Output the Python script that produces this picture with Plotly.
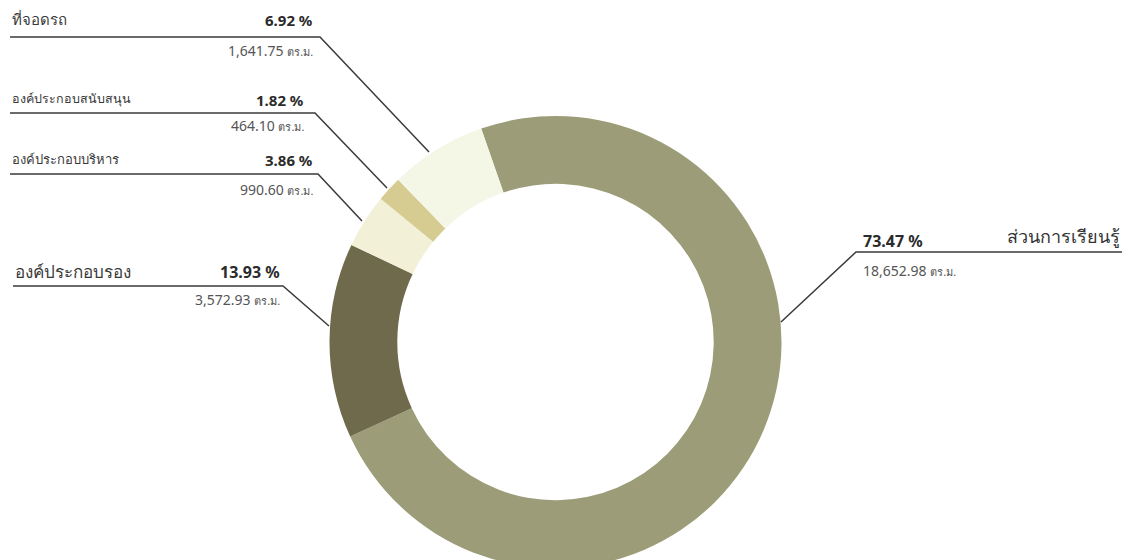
import plotly.graph_objects as go

# ---- data ----
labels = ["ส่วนการเรียนรู้", "องค์ประกอบรอง", "องค์ประกอบบริหาร", "องค์ประกอบสนับสนุน", "ที่จอดรถ"]
percents = [73.47, 13.93, 3.86, 1.82, 6.92]
areas = [18652.98, 3572.93, 990.60, 464.10, 1641.75]
unit = "ตร.ม."
colors = ["#9c9d78", "#6f6a4c", "#f2f0d6", "#d6cb90", "#f4f7e6"]

W, H = 1130, 560
OFF = 8  # page body margin
FONT = "Noto Sans, DejaVu Sans, sans-serif"


def px(x):
    return (x - OFF) / W


def py(y):
    return 1 - (y - OFF) / H


fig = go.Figure()

# donut, clockwise from just left of 12 o'clock
fig.add_trace(go.Pie(
    labels=labels,
    values=percents,
    marker=dict(colors=colors, line=dict(width=0)),
    hole=0.7,
    sort=False,
    direction="clockwise",
    rotation=-19.2,
    textinfo="none",
    hoverinfo="label+percent",
    showlegend=False,
    domain=dict(x=[px(329.5), px(781.5)], y=[0, py(116)]),
))

# label placement (pixels): name y, line y, line x0, x1, ring end point, sizes
left_layout = {
    "ที่จอดรถ": dict(ny=19, ly=37, x0=10, x1=320, end=(429, 152), ns=15, pr=315, ps=15, ay=51),
    "องค์ประกอบสนับสนุน": dict(ny=99, ly=113, x0=10, x1=315, end=(387, 188), ns=12.5, pr=306, ps=15, ay=125),
    "องค์ประกอบบริหาร": dict(ny=159, ly=174, x0=10, x1=318, end=(362, 221), ns=13, pr=315, ps=15, ay=190),
    "องค์ประกอบรอง": dict(ny=271, ly=286, x0=13, x1=283, end=(329, 326), ns=17, pr=282, ps=16, ay=299),
}

annotations = []
shapes = []


def area_text(a):
    return f"{a:,.2f} <span style='font-size:11px'>{unit}</span>"


for name, pct, area in zip(labels, percents, areas):
    if name in left_layout:
        d = left_layout[name]
        annotations.append(dict(x=px(d["x0"]), y=py(d["ny"]), text=name, xanchor="left", yanchor="middle",
                                showarrow=False, font=dict(size=d["ns"], color="#3a3a3a")))
        annotations.append(dict(x=px(d["pr"]), y=py(d["ny"] + 1), text=f"<b>{pct:.2f} %</b>", xanchor="right",
                                yanchor="middle", showarrow=False, font=dict(size=d["ps"], color="#2b2b2b")))
        annotations.append(dict(x=px(d["pr"]), y=py(d["ay"]), text=area_text(area), xanchor="right",
                                yanchor="middle", showarrow=False, font=dict(size=14, color="#555555")))
        ex, ey = d["end"]
        shapes.append(dict(type="path", xref="paper", yref="paper",
                           path=f"M {px(d['x0'])},{py(d['ly'])} L {px(d['x1'])},{py(d['ly'])} L {px(ex)},{py(ey)}",
                           line=dict(color="#3a3a3a", width=1.5)))
    else:
        # right side label
        annotations.append(dict(x=px(1122), y=py(236), text=name, xanchor="right", yanchor="middle",
                                showarrow=False, font=dict(size=18, color="#333333")))
        annotations.append(dict(x=px(861), y=py(241), text=f"<b>{pct:.2f} %</b>", xanchor="left",
                                yanchor="middle", showarrow=False, font=dict(size=16, color="#2b2b2b")))
        annotations.append(dict(x=px(861), y=py(270), text=area_text(area), xanchor="left",
                                yanchor="middle", showarrow=False, font=dict(size=14, color="#555555")))
        shapes.append(dict(type="path", xref="paper", yref="paper",
                           path=f"M {px(1126)},{py(252)} L {px(856)},{py(252)} L {px(781)},{py(322)}",
                           line=dict(color="#3a3a3a", width=1.5)))

fig.update_layout(
    width=W,
    height=H,
    margin=dict(l=0, r=0, t=0, b=0),
    paper_bgcolor="white",
    plot_bgcolor="white",
    font=dict(family=FONT),
    annotations=annotations,
    shapes=shapes,
)

fig.write_html("out.html")
